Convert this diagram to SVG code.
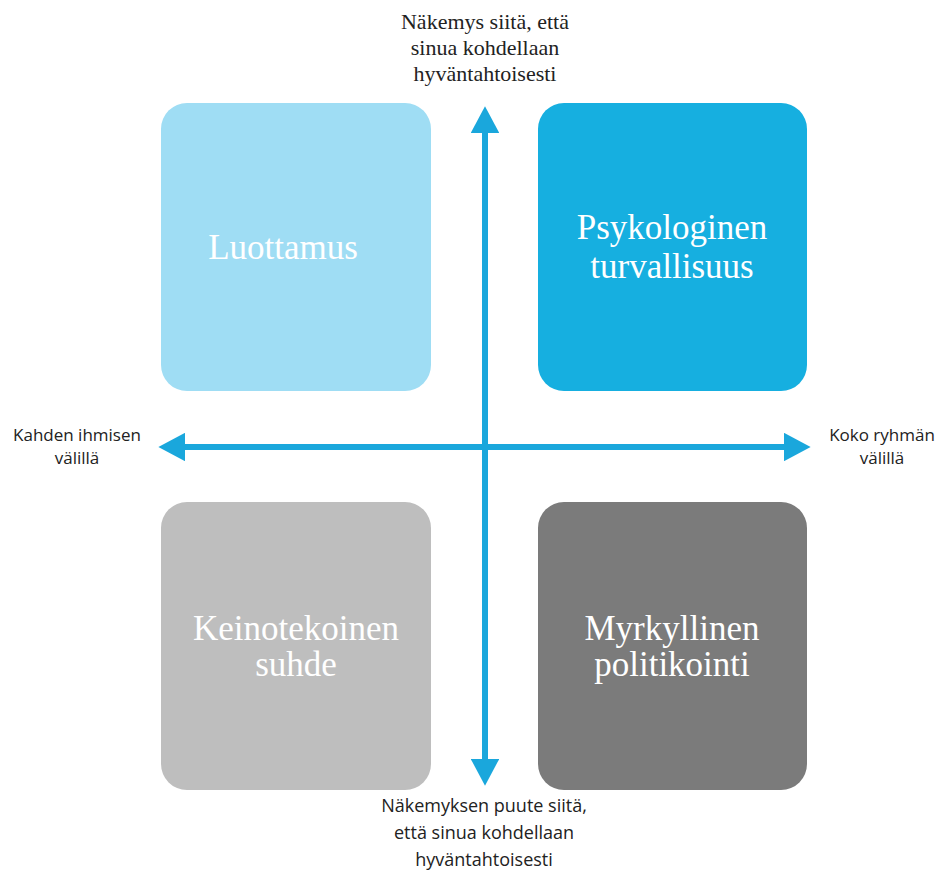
<svg xmlns="http://www.w3.org/2000/svg" width="939" height="872" viewBox="0 0 939 872">
<style>
.box{stroke:none}
.bt{font-family:"Liberation Serif","DejaVu Serif",serif;font-size:35px;fill:#ffffff;text-anchor:middle}
.ax{stroke:#1AA7DC;stroke-width:6;fill:none}
.toplab{font-family:"Liberation Serif","DejaVu Serif",serif;font-size:22px;fill:#222222;text-anchor:middle}
.sans{font-family:"Open Sans","Liberation Sans",sans-serif;font-size:17px;fill:#222;text-anchor:middle}
.sansb{font-family:"Open Sans","Liberation Sans",sans-serif;font-size:18px;fill:#222;text-anchor:middle}
</style>
<defs>
<marker id="ah" viewBox="0 0 10 10" refX="0.5" refY="5" markerWidth="4.5" markerHeight="4.8" orient="auto-start-reverse" markerUnits="strokeWidth" preserveAspectRatio="none">
<path d="M0,0 L10,5 L0,10 Z" fill="#1AA7DC"/>
</marker>
</defs>
<rect width="939" height="872" fill="#ffffff"/>
<g id="luottamus">
<rect class="box" x="161" y="103" width="270" height="288" rx="26" fill="#9FDDF4"/>
<text class="bt" x="283" y="259">Luottamus</text>
</g>
<g id="psykologinen">
<rect class="box" x="538" y="103" width="269" height="288" rx="26" fill="#16AFE0"/>
<text class="bt" x="672" y="239">Psykologinen</text>
<text class="bt" x="672" y="278">turvallisuus</text>
</g>
<g id="keinotekoinen">
<rect class="box" x="161" y="502" width="270" height="288" rx="26" fill="#BEBEBE"/>
<text class="bt" x="296" y="640">Keinotekoinen</text>
<text class="bt" x="296" y="676">suhde</text>
</g>
<g id="myrkyllinen">
<rect class="box" x="538" y="502" width="269" height="288" rx="26" fill="#7B7B7B"/>
<text class="bt" x="672" y="640">Myrkyllinen</text>
<text class="bt" x="672" y="676">politikointi</text>
</g>
<g id="connectors">
<line class="ax" x1="485" y1="760" x2="485" y2="132" marker-start="url(#ah)" marker-end="url(#ah)"/>
<line class="ax" x1="184" y1="447" x2="785" y2="447" marker-start="url(#ah)" marker-end="url(#ah)"/>
</g>
<g id="labels">
<text class="toplab" x="485" y="29">Näkemys siitä, että</text>
<text class="toplab" x="485" y="55">sinua kohdellaan</text>
<text class="toplab" x="485" y="81">hyväntahtoisesti</text>
<text class="sans" x="77" y="441">Kahden ihmisen</text>
<text class="sans" x="77" y="464">välillä</text>
<text class="sans" x="882" y="441">Koko ryhmän</text>
<text class="sans" x="882" y="464">välillä</text>
<text class="sansb" x="484" y="812">Näkemyksen puute siitä,</text>
<text class="sansb" x="484" y="839">että sinua kohdellaan</text>
<text class="sansb" x="484" y="866">hyväntahtoisesti</text>
</g>
</svg>
